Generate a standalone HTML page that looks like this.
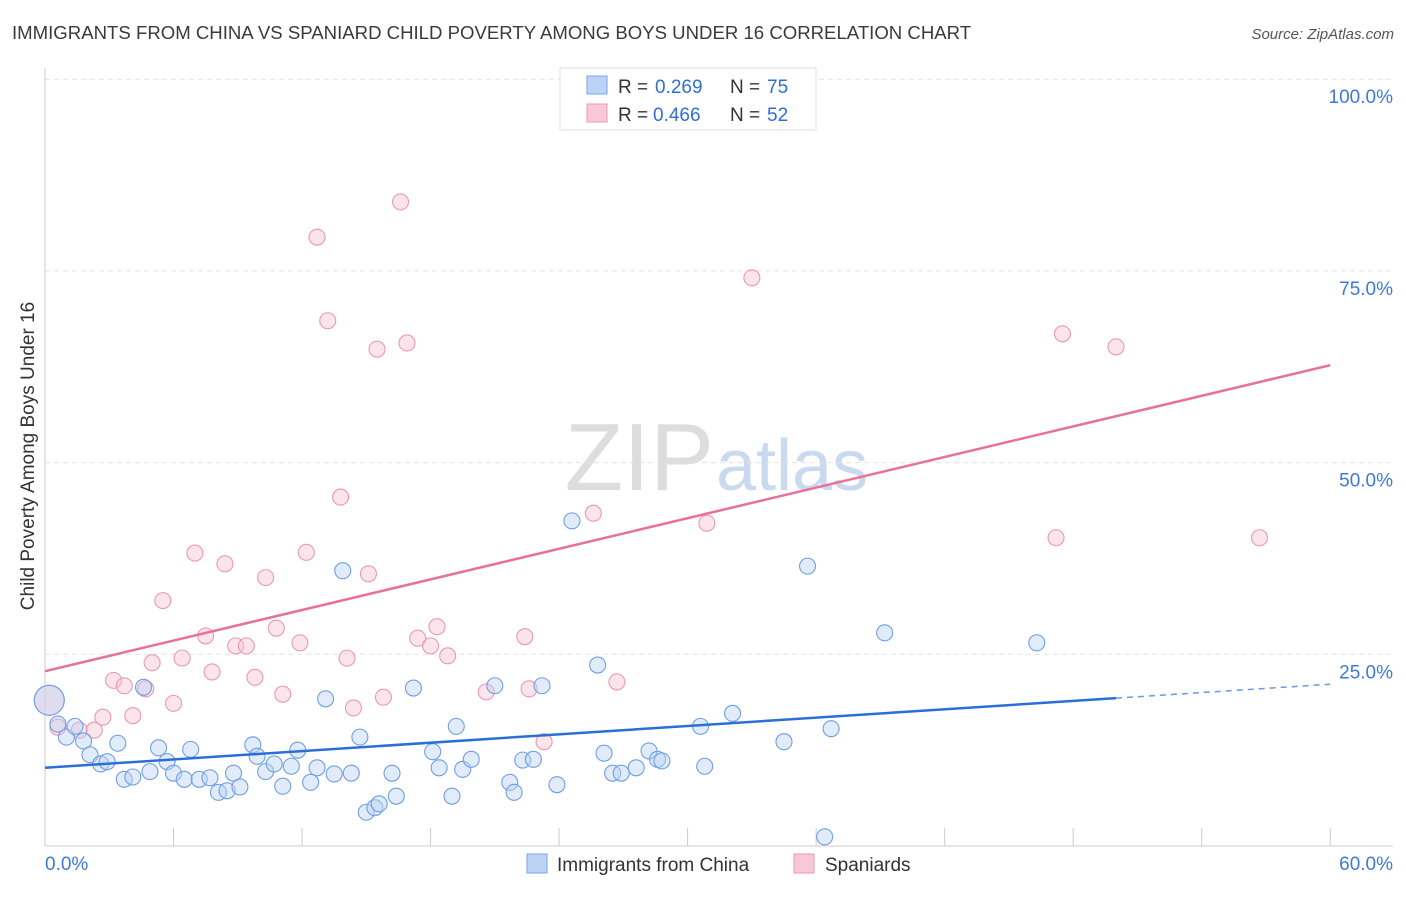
<!DOCTYPE html>
<html><head><meta charset="utf-8"><style>
body{margin:0;background:#fff;font-family:"Liberation Sans",sans-serif;}
svg text{font-family:"Liberation Sans",sans-serif;}
</style></head><body>
<svg id="chart" width="1406" height="892">
<text x="12" y="39" font-size="18.6" fill="#3a3a3a">IMMIGRANTS FROM CHINA VS SPANIARD CHILD POVERTY AMONG BOYS UNDER 16 CORRELATION CHART</text>
<text x="1394" y="39" font-size="15" fill="#555" font-style="italic" text-anchor="end">Source: ZipAtlas.com</text>
<text x="714" y="490" font-size="96" fill="#ddd" text-anchor="end" font-family="Liberation Serif">ZIP</text>
<text x="716" y="490" font-size="72" fill="#c9d9ef">atlas</text>
<text transform="translate(34,456) rotate(-90)" font-size="19" fill="#333" text-anchor="middle">Child Poverty Among Boys Under 16</text>
<g id="grid"></g><g id="axes"></g><g id="pts"></g><g id="lines"></g>
<g>
<rect x="560" y="68" width="256" height="62" fill="#fff" stroke="#ddd"/>
<rect x="587" y="76" width="20" height="18" fill="#bcd3f5" stroke="#7aa6e6"/>
<rect x="587" y="104" width="20" height="18" fill="#f9c8d6" stroke="#ee97b1"/>
<text x="618" y="93" font-size="19" fill="#333">R = </text>
<text x="655" y="93" font-size="19" fill="#2f6fd3">0.269</text>
<text x="730" y="93" font-size="19" fill="#333">N = </text>
<text x="767" y="93" font-size="19" fill="#2f6fd3">75</text>
<text x="618" y="121" font-size="19" fill="#333">R = </text>
<text x="653" y="121" font-size="19" fill="#2f6fd3">0.466</text>
<text x="730" y="121" font-size="19" fill="#333">N = </text>
<text x="767" y="121" font-size="19" fill="#2f6fd3">52</text>
</g>
<g>
<rect x="527" y="854" width="20" height="19" fill="#bcd3f5" stroke="#7aa6e6"/>
<text x="557" y="871" font-size="19" fill="#333">Immigrants from China</text>
<rect x="794" y="854" width="20" height="19" fill="#f9c8d6" stroke="#ee97b1"/>
<text x="825" y="871" font-size="19" fill="#333">Spaniards</text>
</g>
</svg>
<script>
const blueX=[0.2,0.6,1.0,1.4,1.8,2.1,2.6,2.9,3.4,3.7,4.1,4.6,4.9,5.3,5.7,6.0,6.5,6.8,7.2,7.7,8.1,8.5,8.8,9.1,9.7,9.9,10.3,10.7,11.1,11.5,11.8,12.4,12.7,13.1,13.5,13.9,14.3,14.7,15.0,15.4,15.6,16.2,16.4,17.2,18.1,18.4,19.0,19.2,19.5,19.9,21.0,21.7,21.9,22.3,22.8,23.2,23.9,24.6,25.8,26.1,26.5,26.9,27.6,28.2,28.6,28.8,30.6,30.8,32.1,34.5,35.6,36.4,36.7,39.2,46.3];
const blueY=[19.0,15.9,14.2,15.6,13.7,11.9,10.7,11.0,13.4,8.7,9.0,20.7,9.7,12.8,11.0,9.5,8.7,12.6,8.7,8.9,7.0,7.2,9.5,7.7,13.2,11.7,9.7,10.7,7.8,10.4,12.5,8.3,10.2,19.2,9.4,35.9,9.5,14.2,4.4,5.0,5.5,9.5,6.5,20.6,12.3,10.2,6.5,15.6,10.0,11.3,20.9,8.3,7.0,11.2,11.3,20.9,8.0,42.4,23.6,12.1,9.5,9.5,10.2,12.4,11.3,11.1,15.6,10.4,17.3,13.6,36.5,1.2,15.3,27.8,26.5];
const pinkX=[0.2,0.6,1.6,2.3,2.7,3.2,3.7,4.1,4.7,5.0,5.5,6.0,6.4,7.0,7.5,7.8,8.4,8.9,9.4,9.8,10.3,10.8,11.1,11.9,12.2,12.7,13.2,13.8,14.1,14.4,15.1,15.5,15.8,16.6,16.9,17.4,18.0,18.3,18.8,20.6,22.4,22.6,23.3,25.6,26.7,30.9,33.0,47.2,47.5,50.0,56.7];
const pinkY=[19.0,15.5,15.1,15.1,16.8,21.6,20.9,17.0,20.5,23.9,32.0,18.6,24.5,38.2,27.4,22.7,36.8,26.1,26.1,22.0,35.0,28.4,19.8,26.5,38.3,79.4,68.5,45.5,24.5,18.0,35.5,64.8,19.4,84.0,65.6,27.1,26.1,28.6,24.8,20.1,27.3,20.5,13.6,43.4,21.4,42.1,74.1,40.2,66.8,65.1,40.2];
const blueTrend=[10.2,21.1];
const pinkTrend=[22.8,62.7];
const yTicks=[25,50,75,100];
const yTickLabels=["25.0%","50.0%","75.0%","100.0%"];
const xTickLabels=["0.0%","60.0%"];
const NS="http://www.w3.org/2000/svg";
const sx=v=>45+v*21.42, sy=v=>846-v*7.668;
function mk(p,t,a){const e=document.createElementNS(NS,t);for(const k in a)e.setAttribute(k,a[k]);document.getElementById(p).appendChild(e);return e;}
yTicks.forEach((t,i)=>{
 const g=mk('grid','line',{x1:45,x2:1393,y1:sy(t),y2:sy(t),stroke:'#e2e2e2','stroke-dasharray':'5,4'});
 
 
 const l=mk('grid','text',{x:1393,y:sy(t)+24,'font-size':19,fill:'#3d7ad8','text-anchor':'end'});l.textContent=yTickLabels[i];
 
 
});
const ya=mk('axes','line',{x1:45,x2:45,y1:68,y2:846,stroke:'#ccc'});


const xa=mk('axes','line',{x1:45,x2:1393,y1:846,y2:846,stroke:'#ccc'});


for(let i=0;i<=10;i++){const t=mk('axes','line',{x1:sx(i*6),x2:sx(i*6),y1:828,y2:846,stroke:'#ccc'});
 
 }
[[0,'start'],[60,'end']].forEach((d,i)=>{const l=mk('axes','text',{x:i?1393:45,y:870,'font-size':19,fill:'#3d7ad8','text-anchor':d[1]});l.textContent=xTickLabels[i];
 
 });
function pts(X,Y,fill,stroke,name){X.forEach((x,i)=>{const c=mk('pts','circle',{cx:sx(x),cy:sy(Y[i]),r:i===0?15:8,fill:fill,'fill-opacity':0.45,stroke:stroke,'stroke-width':1.1});
 
 });}
pts(pinkX,pinkY,'#f8c4d3','#eb98b2','spaniards-point');
pts(blueX,blueY,'#bcd3f5','#6f9fe3','china-point');
const bEnd=50, bAt=v=>blueTrend[0]+(blueTrend[1]-blueTrend[0])*v/60;
const b1=mk('lines','line',{x1:sx(0),y1:sy(blueTrend[0]),x2:sx(bEnd),y2:sy(bAt(bEnd)),stroke:'#2a6fd6','stroke-width':2.5});


const b2=mk('lines','line',{x1:sx(bEnd),y1:sy(bAt(bEnd)),x2:sx(60),y2:sy(blueTrend[1]),stroke:'#2a6fd6','stroke-width':1.5,'stroke-dasharray':'6,5','stroke-opacity':0.7});


const p1=mk('lines','line',{x1:sx(0),y1:sy(pinkTrend[0]),x2:sx(60),y2:sy(pinkTrend[1]),stroke:'#e8709a','stroke-width':2.5});


</script>
</body></html>
